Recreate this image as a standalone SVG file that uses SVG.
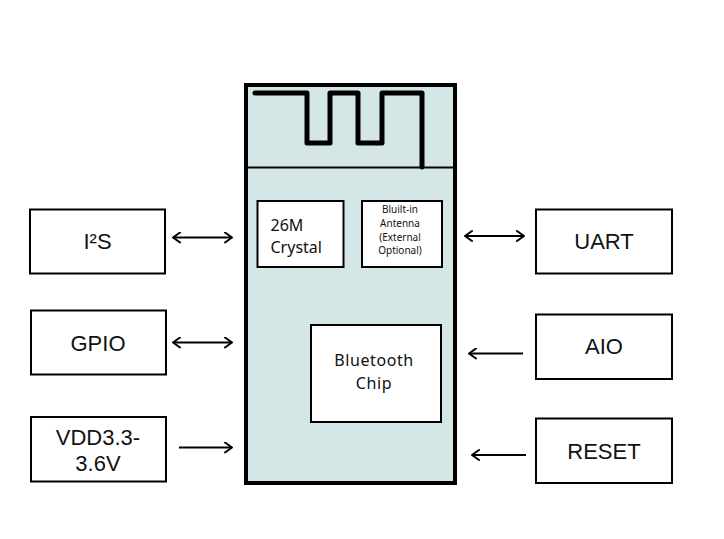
<svg xmlns="http://www.w3.org/2000/svg" width="724" height="539" viewBox="0 0 724 539">
<style>
.box{fill:#fff;stroke:#000;stroke-width:2}
.lbl{font-family:"Liberation Sans",Arial,sans-serif;font-size:22px;fill:#111;text-anchor:middle}
.in{font-family:"Noto Sans","Open Sans",sans-serif;fill:#111}
.conn{stroke:#000;stroke-width:2;fill:none}
.hd{stroke:#000;stroke-width:2;fill:none;stroke-linecap:round;stroke-linejoin:round}
</style>
<defs>
<marker id="ah" viewBox="0 0 12 12" refX="10" refY="6" markerWidth="12" markerHeight="12" markerUnits="userSpaceOnUse" orient="auto-start-reverse">
<path d="M3,1 L10,6 L3,11" fill="none" stroke="#000" stroke-width="2" stroke-linecap="round" stroke-linejoin="round"/>
</marker>
</defs>
<rect width="724" height="539" fill="#fff"/>
<g id="module">
<rect x="246" y="85" width="209" height="398" fill="#d4e7e6" stroke="#000" stroke-width="4"/>
<line x1="246" y1="167.5" x2="455" y2="167.5" stroke="#000" stroke-width="2"/>
<path d="M255,93 H307 V143 H330 V93 H358 V143 H382 V93 H422 V167" fill="none" stroke="#000" stroke-width="5" stroke-linejoin="round" stroke-linecap="round"/>
</g>
<g id="crystal">
<rect x="257.5" y="201" width="86" height="66" class="box"/>
<text class="in" font-size="16" x="270.5" y="230.5">26M</text>
<text class="in" font-size="16" x="270.5" y="252.5">Crystal</text>
</g>
<g id="antenna">
<rect x="362" y="201" width="80" height="66" class="box"/>
<text class="in" font-size="10" text-anchor="middle" x="400" y="212.5">Bluilt-in</text>
<text class="in" font-size="10" text-anchor="middle" x="400" y="226.5">Antenna</text>
<text class="in" font-size="10" text-anchor="middle" x="400" y="240.5">(External</text>
<text class="in" font-size="10" text-anchor="middle" x="400" y="254">Optional)</text>
</g>
<g id="bluetooth">
<rect x="311" y="325" width="130" height="97" class="box"/>
<text class="in" font-size="16" letter-spacing="0.6" text-anchor="middle" x="374" y="365.5">Bluetooth</text>
<text class="in" font-size="16" letter-spacing="0.6" text-anchor="middle" x="374" y="389">Chip</text>
</g>
<g id="i2s">
<rect x="30" y="209.5" width="135" height="64" class="box"/>
<text class="lbl" x="97.5" y="249">I²S</text>
</g>
<g id="gpio">
<rect x="31" y="310.5" width="135" height="64" class="box"/>
<text class="lbl" x="98" y="350.5">GPIO</text>
</g>
<g id="vdd">
<rect x="31" y="417" width="135" height="64.5" class="box"/>
<text class="lbl" x="98" y="444.5">VDD3.3-</text>
<text class="lbl" x="98" y="470.5">3.6V</text>
</g>
<g id="uart">
<rect x="536" y="209.5" width="136" height="64" class="box"/>
<text class="lbl" x="604" y="248.5">UART</text>
</g>
<g id="aio">
<rect x="536" y="314.5" width="136" height="64.5" class="box"/>
<text class="lbl" x="604" y="354">AIO</text>
</g>
<g id="reset">
<rect x="536" y="418.5" width="136" height="64.5" class="box"/>
<text class="lbl" x="604" y="458.5">RESET</text>
</g>
<g id="connectors">
<line class="conn" x1="173" y1="237.5" x2="232" y2="237.5" marker-start="url(#ah)" marker-end="url(#ah)"/>
<line class="conn" x1="173" y1="342.5" x2="232" y2="342.5" marker-start="url(#ah)" marker-end="url(#ah)"/>
<line class="conn" x1="179" y1="447.5" x2="232" y2="447.5" marker-end="url(#ah)"/>
<line class="conn" x1="465" y1="236" x2="524" y2="236" marker-start="url(#ah)" marker-end="url(#ah)"/>
<line class="conn" x1="523" y1="353.5" x2="469" y2="353.5" marker-end="url(#ah)"/>
<line class="conn" x1="526" y1="455" x2="472" y2="455" marker-end="url(#ah)"/>
</g>
</svg>
